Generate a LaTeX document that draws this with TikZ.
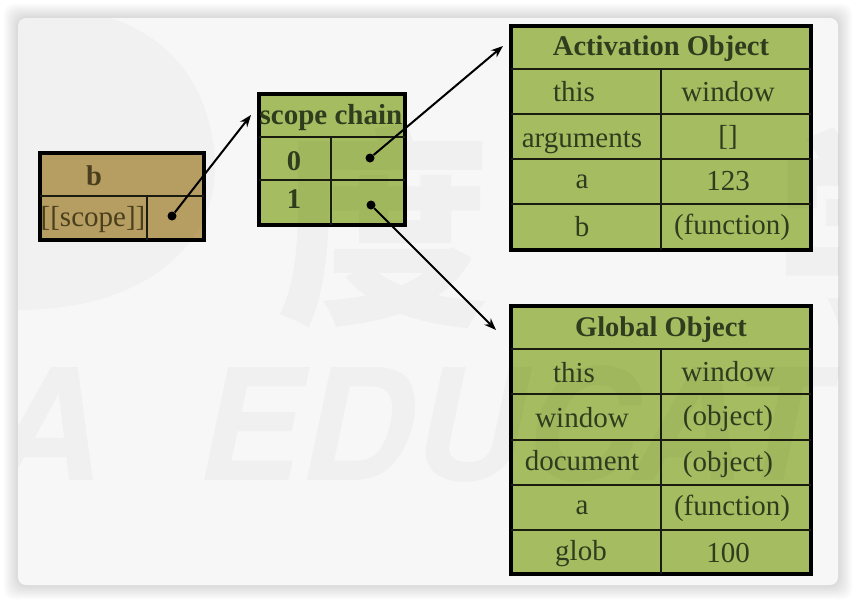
\documentclass[tikz,border=0pt]{standalone}
\usepackage{fontspec}
\setmainfont{Liberation Serif}
\newfontfamily\markfont{TeX Gyre Heros}
\newfontfamily\cjkfont{Noto Sans CJK SC}
\usepackage{tikz}
\usetikzlibrary{arrows.meta, positioning}
\definecolor{cardgray}{HTML}{F7F7F7}
\definecolor{tablegreen}{HTML}{A5BD60}
\definecolor{tabletan}{HTML}{BBA165}
\definecolor{inkgreen}{HTML}{2E3D1E}
\definecolor{inktan}{HTML}{4A3F1C}
\tikzstyle{card} = [rectangle, rounded corners=8pt, fill=cardgray]
\tikzstyle{glow} = [rectangle, rounded corners=10pt, fill=black, opacity=0.018]
\tikzstyle{greenframe} = [rectangle, draw=black, line width=4pt, fill=tablegreen, inner sep=0pt]
\tikzstyle{tanframe} = [rectangle, draw=black, line width=4pt, fill=tabletan, inner sep=0pt]
\tikzstyle{rule} = [draw=black!85!tablegreen, line width=1.8pt]
\tikzstyle{cell} = [inner sep=0pt, text=inkgreen, font=\fontsize{29}{30}\selectfont]
\tikzstyle{head} = [inner sep=0pt, text=inkgreen, font=\fontsize{28.5}{30}\selectfont\bfseries]
\tikzstyle{tancell} = [inner sep=0pt, text=inktan, font=\fontsize{29}{30}\selectfont]
\tikzstyle{dot} = [circle, fill=black, inner sep=0pt, minimum size=9pt]
\tikzstyle{link} = [-{Stealth[length=12pt, width=9pt]}, line width=2pt, black]
\tikzstyle{watermark} = [inner sep=0pt, text=black, opacity=0.028]

\begin{document}
\begin{tikzpicture}[x=1pt, y=-1pt]
        \useasboundingbox (0,0) rectangle (856,603);
        \fill[white] (0,0) rectangle (856,603);
        % soft shadow round the card
        \foreach \d in {2,4,...,14} {
            \path[glow] (18-\d,18-\d) rectangle (838+\d,585+\d);
        }
        \path[card] (18,18) rectangle (838,585);

        % table bodies
        \node[tanframe, minimum width=164pt, minimum height=87pt] (bBox) at (122,196.5) {};
        \node[greenframe, minimum width=146pt, minimum height=131pt] (chainBox) at (332,159.5) {};
        \node[greenframe, minimum width=300pt, minimum height=224pt] (activationBox) at (661,138) {};
        \node[greenframe, minimum width=300pt, minimum height=268pt] (globalBox) at (661,440) {};

        % watermark
        \begin{scope}
            \clip[rounded corners=8pt] (18,18) rectangle (838,585);
            \fill[black, opacity=0.022] (18,18) -- (110,18) .. controls (180,40) and (215,100) .. (215,170) .. controls (215,240) and (150,310) .. (18,310) -- cycle;
            \node[watermark, font=\fontsize{215}{215}\selectfont\cjkfont\bfseries] (markDu) at (384,226) {度};
            \node[watermark, font=\fontsize{215}{215}\selectfont\cjkfont\bfseries, anchor=west] (markXue) at (775,226) {学};
            \node[watermark, font=\fontsize{155}{155}\selectfont\markfont\bfseries\itshape, anchor=base west] (markA) at (-10,480) {A};
            \node[watermark, font=\fontsize{155}{155}\selectfont\markfont\bfseries\itshape, anchor=base west] (markEdu) at (198,480) {EDUCAT};
        \end{scope}

        % rules
        \draw[rule] (40,196) -- (204,196);
        \draw[rule] (147,196) -- (147,240);
        \draw[rule] (259,137) -- (405,137);
        \draw[rule] (259,180) -- (405,180);
        \draw[rule] (331,137) -- (331,225);
        \foreach \y in {69,114,159,204} {
            \draw[rule] (511,\y) -- (811,\y);
        }
        \draw[rule] (661,69) -- (661,250);
        \foreach \y in {349,394,440,485,530} {
            \draw[rule] (511,\y) -- (811,\y);
        }
        \draw[rule] (661,349) -- (661,574);

        \node[head, text=inktan] (bTitle) at (94,176) {b};
        \node[tancell] (bScope) at (93,220) {[[scope]]};
        \node[dot] (bDot) at (172,216) {};

        \node[head, font=\fontsize{29}{30}\selectfont\bfseries] (chainTitle) at (331,118) {scope chain};
        \node[head] (chainZero) at (294,161) {0};
        \node[head] (chainOne) at (294,199) {1};
        \node[dot] (zeroDot) at (370,158) {};
        \node[dot] (oneDot) at (371,205) {};

        \node[head] (activationTitle) at (661,49) {Activation Object};
        \node[cell] (aoThis) at (574,92) {this};
        \node[cell] (aoWindow) at (728,92) {window};
        \node[cell] (aoArguments) at (582,142) {arguments};
        \node[cell] (aoEmpty) at (728,137) {[]};
        \node[cell] (aoA) at (582,182) {a};
        \node[cell] (aoNum) at (728,181) {123};
        \node[cell] (aoB) at (582,227) {b};
        \node[cell] (aoFunction) at (732,227) {(function)};

        \node[head] (globalTitle) at (661,330) {Global Object};
        \node[cell] (goThis) at (574,373) {this};
        \node[cell] (goWindow) at (728,372) {window};
        \node[cell] (goWin) at (582,418) {window};
        \node[cell] (goObject) at (728,419) {(object)};
        \node[cell] (goDocument) at (582,461) {document};
        \node[cell] (goObjectTwo) at (728,465) {(object)};
        \node[cell] (goA) at (582,508) {a};
        \node[cell] (goFunction) at (732,508) {(function)};
        \node[cell] (goGlob) at (581,554) {glob};
        \node[cell] (goNum) at (728,553) {100};

        \coordinate (chainTip) at (251,115);
        \coordinate (activationTip) at (503,46);
        \coordinate (globalTip) at (496,330);

        \draw[link] (bDot) -- (chainTip);
        \draw[link] (zeroDot) -- (activationTip);
        \draw[link] (oneDot) -- (globalTip);
    \end{tikzpicture}
\end{document}
